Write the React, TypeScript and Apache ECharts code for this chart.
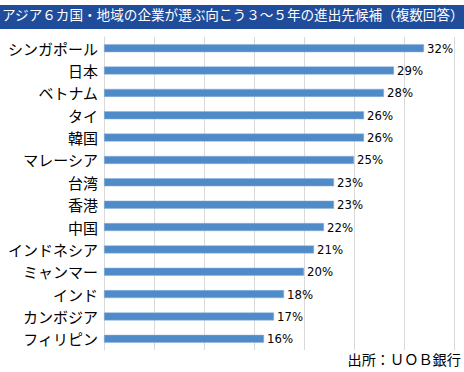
import React, { useEffect, useRef } from "react";
import * as echarts from "echarts";

const categories = [
  "シンガポール",
  "日本",
  "ベトナム",
  "タイ",
  "韓国",
  "マレーシア",
  "台湾",
  "香港",
  "中国",
  "インドネシア",
  "ミャンマー",
  "インド",
  "カンボジア",
  "フィリピン",
];
const values = [32, 29, 28, 26, 26, 25, 23, 23, 22, 21, 20, 18, 17, 16];
const titleText = "アジア６カ国・地域の企業が選ぶ向こう３～５年の進出先候補（複数回答）";
const sourceText = "出所：ＵＯＢ銀行";

export default function App() {
  const ref = useRef<HTMLDivElement>(null);
  useEffect(() => {
    if (!ref.current) return;
    const chart = echarts.init(ref.current, null, { renderer: "svg" });
    chart.setOption({
      animation: false,
      backgroundColor: "#ffffff",
      graphic: [
        {
          type: "rect",
          left: 0,
          top: 5,
          shape: { width: 464, height: 24 },
          style: { fill: "#1f4c9b" },
          z: 0,
        },
        {
          type: "text",
          left: 2,
          top: 7,
          style: {
            text: titleText,
            fill: "#ffffff",
            font: '13.6px "Noto Sans CJK JP"',
          },
          z: 1,
        },
        {
          type: "text",
          right: 3,
          top: 352,
          style: {
            text: sourceText,
            fill: "#000000",
            font: '14.2px "Noto Sans CJK JP"',
          },
        },
      ],
      grid: { left: 104, top: 37, width: 350, height: 313, containLabel: false },
      xAxis: {
        type: "value",
        min: 0,
        max: 35,
        interval: 5,
        axisLabel: { show: false },
        axisLine: { show: false },
        axisTick: { show: false },
        splitLine: { show: true, lineStyle: { color: "#d9d9d9", width: 1 } },
      },
      yAxis: {
        type: "category",
        data: categories,
        inverse: true,
        axisLine: { show: true, lineStyle: { color: "#d9d9d9" } },
        axisTick: { show: false },
        axisLabel: {
          color: "#000000",
          fontSize: 15,
          fontFamily: '"Noto Sans CJK JP"',
          margin: 6,
        },
      },
      series: [
        {
          type: "bar",
          data: values,
          barWidth: 8,
          itemStyle: { color: "#4f8ac9", borderColor: "#8fb3db", borderWidth: 0.5 },
          label: {
            show: true,
            position: "right",
            distance: 3,
            formatter: "{c}%",
            color: "#000000",
            fontSize: 13,
            fontFamily: '"Liberation Sans Narrow", "DejaVu Sans Condensed", sans-serif',
          },
        },
      ],
    });
    return () => chart.dispose();
  }, []);
  return (
    <div
      ref={ref}
      style={{ width: 464, height: 372, position: "fixed", left: 0, top: 0 }}
    />
  );
}
